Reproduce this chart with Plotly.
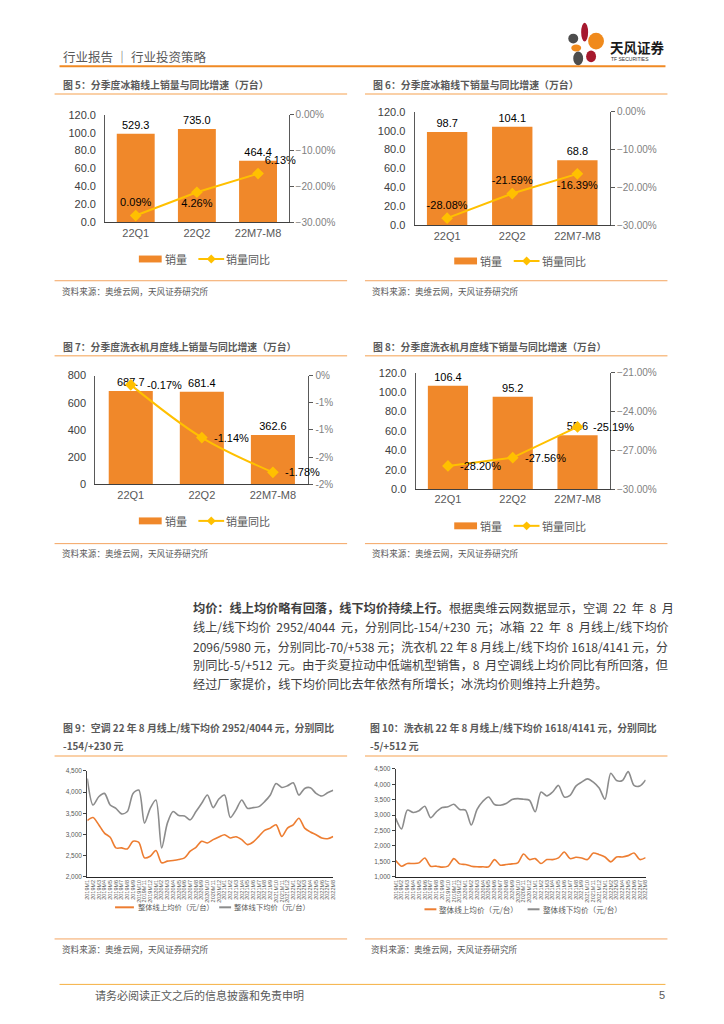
import plotly.graph_objects as go

W, H = 724, 1024
def PX(x): return x / W
def PY(y): return 1 - y / H

CJK = "Noto Sans CJK SC"
LAT = "Liberation Sans, Arial, sans-serif"
BAR_C = "#F0882A"
LINE_C = "#FFC000"
ORANGE = "#F08A24"
LIGHT_OR = "#F8C08A"
GRAY_T = "#595959"

# ---------------- data ----------------
quarters = ["22Q1", "22Q2", "22M7-M8"]
fig5_sales = [98.7, 104.1, 68.8]
fig5_sales_labels = ["529.3", "735.0", "464.4"]
fig5_yoy = [-28.08, -21.59, -16.39]
fig5_yoy_labels = ["0.09%", "4.26%", "6.13%"]
fig6_sales = [98.7, 104.1, 68.8]
fig6_yoy = [-28.08, -21.59, -16.39]
fig7_sales = [687.7, 681.4, 362.6]
fig7_yoy = [-0.17, -1.14, -1.78]
fig7_right_tickvals = [0, -0.5, -1, -1.5, -2]
fig7_right_ticktext = ["0%", "-1%", "-1%", "-2%", "-2%"]
fig8_sales = [106.4, 95.2, 55.6]
fig8_yoy = [-28.20, -27.56, -25.19]

months = ([f"2019M{m}" for m in range(1, 13)] + [f"2020M{m}" for m in range(1, 13)]
          + [f"2021M{m}" for m in range(1, 13)] + [f"2022M{m}" for m in range(1, 9)])
ac_online = [3328, 3398, 3227, 3031, 2930, 2680, 2680, 2656, 2836, 2813, 2445, 2484, 2617, 2328,
             2367, 2383, 2406, 2445, 2602, 2695, 2836, 2797, 2875, 2938, 2992, 2914, 2945, 2875,
             2758, 2820, 2953, 3094, 3148, 3227, 2953, 3148, 3227, 3383, 3148, 3055, 2992, 2914,
             2898, 2952]
ac_offline = [4320, 3695, 3890, 3969, 3695, 3617, 3484, 3539, 3969, 4047, 3266, 3617, 3813, 2680,
              3266, 3539, 3445, 3437, 3344, 3539, 3734, 3930, 3633, 3836, 3930, 3398, 3578, 3813,
              3617, 3633, 3656, 3773, 3930, 4203, 4109, 4148, 4219, 3930, 4086, 4102, 3969, 3906,
              3984, 4044]
wm_online = [1523, 1341, 1427, 1427, 1448, 1609, 1341, 1341, 1309, 1341, 1587, 1416, 1395, 1341,
             1320, 1320, 1320, 1555, 1373, 1395, 1416, 1448, 1737, 1555, 1587, 1427, 1555, 1555,
             1609, 1801, 1587, 1630, 1609, 1555, 1770, 1716, 1641, 1480, 1641, 1641, 1684, 1770,
             1555, 1618]
wm_offline = [2894, 2551, 3162, 3087, 3140, 3290, 2915, 3108, 3247, 3269, 3354, 3183, 3162, 2680,
              3183, 3451, 3590, 3344, 3322, 3376, 3504, 3536, 3515, 3483, 3108, 3751, 3622, 3751,
              3965, 3590, 3644, 3943, 4072, 4179, 4072, 3879, 3515, 4361, 4125, 4125, 4414, 3965,
              3943, 4141]

# ---------------- helpers ----------------
traces = []
shapes = []
annotations = []
layout = dict(width=W, height=H, autosize=False, margin=dict(l=0, r=0, t=0, b=0, pad=0),
              paper_bgcolor="white", plot_bgcolor="rgba(0,0,0,0)", showlegend=False)

def axkey(p, n): return f"{p}axis" + ("" if n == 1 else str(n))
def axref(p, n): return p + ("" if n == 1 else str(n))

def T(x, y, text, size, color=GRAY_T, xanchor="left", family=CJK):
    annotations.append(dict(x=PX(x), y=PY(y), xref="paper", yref="paper", text=text,
                            showarrow=False, xanchor=xanchor, yanchor="middle",
                            font=dict(family=family, size=size, color=color), borderpad=0))

def HL(x0, x1, y, color, width=1):
    shapes.append(dict(type="line", xref="paper", yref="paper", x0=PX(x0), x1=PX(x1),
                       y0=PY(y), y1=PY(y), line=dict(color=color, width=width)))

def bar_chart(k, box, sales, sales_text, yoy, yoy_text, yoy_pos, left, right, smooth=False,
              label_shift=None):
    xl, xr, yt, yb = box
    xn, yl, yr = k, 2 * k - 1, 2 * k
    layout[axkey("x", xn)] = dict(domain=[PX(xl), PX(xr)], anchor=axref("y", yl), type="category",
                                 range=[-0.5, 2.5], showline=True, linecolor="#404040", linewidth=1,
                                 ticks="", showgrid=False, zeroline=False, fixedrange=True,
                                 tickfont=dict(family=LAT, size=11, color=GRAY_T))
    layout[axkey("y", yl)] = dict(domain=[PY(yb), PY(yt)], anchor=axref("x", xn), showline=True,
                                 linecolor="#595959", linewidth=1, ticks="", showgrid=False,
                                 zeroline=False, ticklabelstandoff=6,
                                 tickfont=dict(family=LAT, size=11, color="#404040"), **left)
    layout[axkey("y", yr)] = dict(domain=[PY(yb), PY(yt)], overlaying=axref("y", yl), side="right",
                                 anchor=axref("x", xn), showline=True, linecolor="#595959",
                                 linewidth=1, ticks="outside", ticklen=4, tickcolor="#595959",
                                 showgrid=False, zeroline=False,
                                 tickfont=dict(family=LAT, size=10, color="#7f7f7f"), **right)
    traces.append(go.Bar(x=quarters, y=sales, text=sales_text, textposition="outside",
                         textfont=dict(family=LAT, size=11, color="black"), constraintext="none",
                         marker=dict(color=BAR_C, line=dict(width=0)), width=0.62,
                         xaxis=axref("x", xn), yaxis=axref("y", yl), cliponaxis=False,
                         name="销量"))
    if label_shift is None:
        traces.append(go.Scatter(x=quarters, y=yoy, mode="lines+markers+text", text=yoy_text,
                                 textposition=yoy_pos,
                                 textfont=dict(family=LAT, size=11, color="black"),
                                 line=dict(color=LINE_C, width=2, shape="spline" if smooth else "linear"),
                                 marker=dict(symbol="diamond", size=9, color=LINE_C),
                                 xaxis=axref("x", xn), yaxis=axref("y", yr), cliponaxis=False,
                                 name="销量同比"))
    else:
        traces.append(go.Scatter(x=quarters, y=yoy, mode="lines+markers",
                                 line=dict(color=LINE_C, width=2, shape="spline" if smooth else "linear"),
                                 marker=dict(symbol="diamond", size=9, color=LINE_C),
                                 xaxis=axref("x", xn), yaxis=axref("y", yr), cliponaxis=False,
                                 name="销量同比"))
        for q, v, t, s in zip(quarters, yoy, yoy_text, label_shift):
            annotations.append(dict(x=q, y=v, xref=axref("x", xn), yref=axref("y", yr), text=t,
                                    showarrow=False, xanchor="left", yanchor="middle", xshift=s,
                                    font=dict(family=LAT, size=11, color="black"), borderpad=0))

def bar_legend(base, cy):
    shapes.append(dict(type="rect", xref="paper", yref="paper", x0=PX(base), x1=PX(base + 23),
                       y0=PY(cy + 3.5), y1=PY(cy - 3.5), fillcolor=BAR_C, line=dict(width=0)))
    T(base + 25, cy, "销量", 11)
    HL(base + 60, base + 86, cy, LINE_C, 2)
    cx = base + 73
    shapes.append(dict(type="path", xref="paper", yref="paper",
                       path=f"M {PX(cx)},{PY(cy-4.5)} L {PX(cx+4.5)},{PY(cy)} L {PX(cx)},{PY(cy+4.5)} L {PX(cx-4.5)},{PY(cy)} Z",
                       fillcolor=LINE_C, line=dict(width=0)))
    T(base + 87, cy, "销量同比", 11)

def line_chart(k, box, online, offline, yrange):
    xl, xr, yt, yb = box
    layout[axkey("x", k)] = dict(domain=[PX(xl), PX(xr)], anchor=axref("y", k + 4), range=[0, 43],
                                tickvals=list(range(len(months))), ticktext=months, tickangle=-90,
                                showline=True, linecolor="#262626", linewidth=1, ticks="",
                                showgrid=False, zeroline=False,
                                tickfont=dict(family=LAT, size=5.5, color=GRAY_T))
    layout[axkey("y", k + 4)] = dict(domain=[PY(yb), PY(yt)], anchor=axref("x", k), range=yrange,
                                    dtick=500, tickformat=",", showline=True, linecolor="#404040",
                                    linewidth=1, ticks="outside", ticklen=3, tickcolor="#404040",
                                    showgrid=False, zeroline=False,
                                    tickfont=dict(family=LAT, size=6.5, color=GRAY_T))
    idx = list(range(len(months)))
    traces.append(go.Scatter(x=idx, y=online, mode="lines", name="整体线上均价（元/台）",
                             line=dict(color="#ED7D31", width=1.6, shape="spline", smoothing=0.8),
                             xaxis=axref("x", k), yaxis=axref("y", k + 4)))
    traces.append(go.Scatter(x=idx, y=offline, mode="lines", name="整体线下均价（元/台）",
                             line=dict(color="#8C8C8C", width=1.6, shape="spline", smoothing=0.8),
                             xaxis=axref("x", k), yaxis=axref("y", k + 4)))

NB = "\u00a0"
# ---------------- charts ----------------
pos5 = ["top center", "bottom center", "top right"]
bar_chart(1, (103, 288, 110, 219), fig5_sales, fig5_sales_labels, fig5_yoy, fig5_yoy_labels, pos5,
          dict(range=[0, 120], dtick=20, tickformat=".1f"),
          dict(range=[-30, 0], dtick=10, tickformat=".2f", ticksuffix="%"))
pos6 = ["top center", "top center", "bottom center"]
bar_chart(2, (415, 612, 107, 222), fig6_sales, [f"{v:.1f}" for v in fig6_sales], fig6_yoy,
          [f"{v:.2f}%" for v in fig6_yoy], pos6,
          dict(range=[0, 120], dtick=20, tickformat=".1f"),
          dict(range=[-30, 0], dtick=10, tickformat=".2f", ticksuffix="%"))
bar_chart(3, (93, 308, 374, 484), fig7_sales, [f"{v:.1f}" for v in fig7_sales], fig7_yoy,
          [f"{v:.2f}%" for v in fig7_yoy], None,
          dict(range=[0, 800], dtick=200, tickformat="d"),
          dict(range=[-2, 0], tickvals=fig7_right_tickvals, ticktext=fig7_right_ticktext), smooth=True,
          label_shift=[15, 11, 11])
bar_chart(4, (416, 612, 371, 489), fig8_sales, [f"{v:.1f}" for v in fig8_sales], fig8_yoy,
          [f"{v:.2f}%" for v in fig8_yoy], None,
          dict(range=[0, 120], dtick=20, tickformat=".1f"),
          dict(range=[-30, -21], tick0=-30, dtick=3, tickformat=".2f", ticksuffix="%"),
          label_shift=[11, 11, 14])
line_chart(5, (85, 333, 774, 881), ac_online, ac_offline, [2000, 4500])
line_chart(6, (396, 648, 772, 881), wm_online, wm_offline, [1000, 4500])

# ---------------- page decorations ----------------
# header
T(59, 51, "行业报告 ｜ 行业投资策略", 12.5, "#595959")
HL(57, 668, 61, ORANGE, 2)
for (x0, y0, x1, y1, c) in [(583, 17, 590, 36, "#A6192E"), (590, 27, 606, 44, "#F08A1C"),
                            (570, 28, 580, 38, "#4D4D4D"), (573, 39, 583, 46, "#F08A1C"),
                            (575, 46, 585, 60, "#4D4D4D"), (588, 45, 598, 57, "#A6192E")]:
    shapes.append(dict(type="circle", xref="paper", yref="paper", x0=PX(x0), x1=PX(x1),
                       y0=PY(y1), y1=PY(y0), fillcolor=c, line=dict(width=0)))
T(611, 41, "<b>天风证券</b>", 13.5, "#1a1a1a")
T(612, 54, "TF SECURITIES", 5, "#333333", family=LAT)

# titles
T(59, 80, "<b>图 5：分季度冰箱线上销量与同比增速（万台）</b>", 9.9)
T(372, 80, "<b>图 6：分季度冰箱线下销量与同比增速（万台）</b>", 9.9)
T(59, 345, "<b>图 7：分季度洗衣机月度线上销量与同比增速（万台）</b>", 9.8)
T(372, 345, "<b>图 8：分季度洗衣机月度线下销量与同比增速（万台）</b>", 9.8)
T(59, 731, "<b>图 9：空调 22 年 8 月线上/线下均价 2952/4044 元，分别同比</b>", 9.9)
T(59, 749, "<b>-154/+230 元</b>", 9.9)
T(369, 731, "<b>图 10：洗衣机 22 年 8 月线上/线下均价 1618/4141 元，分别同比</b>", 9.9)
T(369, 749, "<b>-5/+512 元</b>", 9.9)
for (x0, x1) in [(52, 347), (365, 670)]:
    HL(x0, x1, 89, LIGHT_OR, 1.5)
    HL(x0, x1, 354, LIGHT_OR, 1.5)
    HL(x0, x1, 759, LIGHT_OR, 1.5)
    HL(x0, x1, 278, "#F4A460", 1)
    HL(x0, x1, 544, "#F4A460", 1)
    HL(x0, x1, 944, "#F4A460", 1)
src = "资料来源：奥维云网，天风证券研究所"
for (x, y) in [(58, 288), (371, 288), (58, 553), (371, 553), (58, 954), (370, 954)]:
    T(x, y, src, 8.6)

# legends
bar_legend(137, 256)
bar_legend(455, 258)
bar_legend(137, 521)
bar_legend(455, 526)
HL(113, 132, 912, "#ED7D31", 2)
T(135, 912, "整体线上均价（元/台）", 7.3)
HL(218, 230, 912, "#8C8C8C", 2)
T(232, 912, "整体线下均价（元/台）", 7.3)
HL(425, 437, 914, "#ED7D31", 2)
T(439, 914, "整体线上均价（元/台）", 7.6)
HL(529, 541, 914, "#8C8C8C", 2)
T(544, 914, "整体线下均价（元/台）", 7.6)

# paragraph (justified look approximated with extra spaces)
para = [
    ("<b>均价：线上均价略有回落，线下均价持续上行。</b>根据奥维云网数据显示，空调  22  年  8  月", 12.2),
    ("线上/线下均价  2952/4044  元，分别同比-154/+230  元；冰箱  22  年  8  月线上/线下均价", 12.2),
    ("2096/5980 元，分别同比-70/+538 元；洗衣机 22 年 8 月线上/线下均价 1618/4141 元，分", 12.0),
    ("别同比-5/+512  元。由于炎夏拉动中低端机型销售，8  月空调线上均价同比有所回落，但", 12.2),
    ("经过厂家提价，线下均价同比去年依然有所增长；冰洗均价则维持上升趋势。", 12.2),
]
for i, (line, fs) in enumerate(para):
    T(191, 609 + i * 19.3, line.replace("  ", NB + NB), fs, "#404040")

# footer
HL(57, 668, 990, "#F5B041", 1)
T(92, 1001, "请务必阅读正文之后的信息披露和免责申明", 11, "#595959")
T(669, 1001, "5", 11, "#595959", xanchor="right", family=LAT)

layout["shapes"] = shapes
layout["annotations"] = annotations
fig = go.Figure(data=traces, layout=layout)
fig.write_html("out.html", config={"displayModeBar": False},
               post_script="document.body.style.margin='0';document.body.style.padding='0';")
